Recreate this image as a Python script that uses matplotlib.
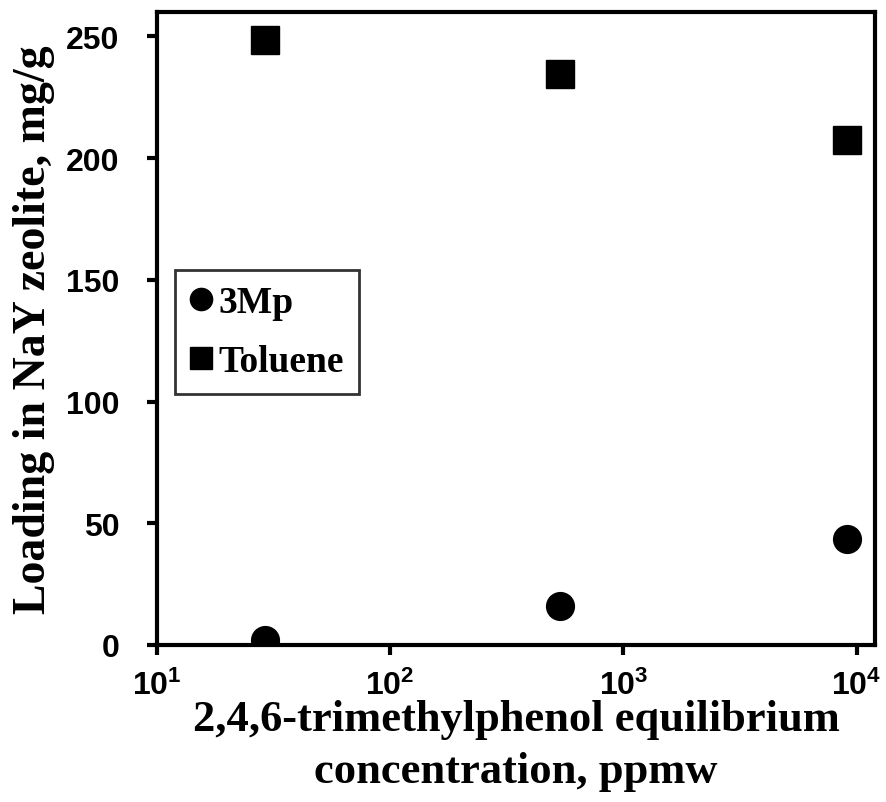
import math
import matplotlib
matplotlib.use("Agg")
import matplotlib.pyplot as plt
from matplotlib.ticker import FixedLocator, NullLocator, FuncFormatter
from matplotlib.lines import Line2D

# Data
conc = [29, 533, 9100]
mp3 = [2, 16, 43.5]
toluene = [248.5, 234.5, 207.5]
xticks = [10, 100, 1000, 10000]
yticks = [0, 50, 100, 150, 200, 250]

plt.rcParams['mathtext.fontset'] = 'custom'
plt.rcParams['mathtext.rm'] = 'Liberation Sans:bold'
plt.rcParams['mathtext.it'] = 'Liberation Sans:bold'
plt.rcParams['mathtext.bf'] = 'Liberation Sans:bold'

fig = plt.figure(figsize=(8.86, 8.03), dpi=100)
ax = fig.add_axes([157/886, 1-646/803, (875-157)/886, (646-13)/803])

ax.plot(conc, mp3, 'o', color='black', markersize=20, linestyle='none', label='3Mp')
ax.plot(conc, toluene, 's', color='black', markersize=19.5, linestyle='none', label='Toluene')

ax.set_xscale('log')
ax.set_xlim(10, 12000)
ax.set_ylim(0, 260)
ax.xaxis.set_major_locator(FixedLocator(xticks))
ax.xaxis.set_minor_locator(NullLocator())
ax.xaxis.set_major_formatter(FuncFormatter(lambda v, p: r'$10^{%d}$' % round(math.log10(v))))
ax.set_yticks(yticks)

for s in ax.spines.values():
    s.set_linewidth(3)
ax.tick_params(axis='y', direction='out', length=7, width=3, labelsize=23, pad=20)
ax.tick_params(axis='x', direction='out', length=7, width=3, labelsize=23, pad=11)
for lab in ax.get_yticklabels():
    lab.set_fontfamily('Liberation Sans')
    lab.set_fontweight('bold')

ax.set_ylabel('Loading in NaY zeolite, mg/g', family='Liberation Serif', fontweight='bold', fontsize=33, labelpad=8)
ax.set_xlabel('2,4,6-trimethylphenol equilibrium\nconcentration, ppmw', family='Liberation Serif', fontweight='bold', fontsize=32, linespacing=1.4, labelpad=-2)

handles = [Line2D([], [], marker='o', color='black', linestyle='none', markersize=16),
           Line2D([], [], marker='s', color='black', linestyle='none', markersize=16)]
leg = ax.legend(handles, ['3Mp', 'Toluene'], loc='upper left', bbox_to_anchor=(18/718, (646-271)/633),
                prop={'family': 'Liberation Serif', 'weight': 'bold', 'size': 27},
                frameon=True, fancybox=False, edgecolor='black', handlelength=0.6, handletextpad=0.15,
                borderpad=0.4, labelspacing=0.65, borderaxespad=0)
leg.get_frame().set_linewidth(2)

fig.savefig('out.png', dpi=100)
